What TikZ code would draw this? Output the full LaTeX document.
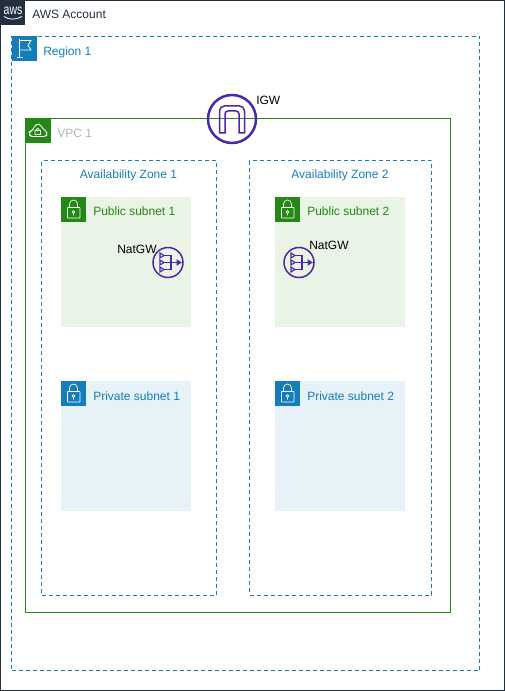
\documentclass[tikz,border=0pt]{standalone}
\usepackage{fontspec}
\setmainfont{Liberation Sans}
\usepackage{xcolor}
\usetikzlibrary{positioning, calc}

\definecolor{awsdark}{HTML}{232F3E}
\definecolor{awsblue}{HTML}{147EBA}
\definecolor{awsgreen}{HTML}{248814}
\definecolor{awsgrey}{HTML}{AAB7B8}
\definecolor{awspurple}{HTML}{4D27AA}
\definecolor{pubfill}{HTML}{E9F3E6}
\definecolor{privfill}{HTML}{E6F2F8}

\newcommand{\px}{0.75pt}

\tikzset{
    box/.style={rectangle, anchor=north west, inner sep=0pt, outer sep=0pt},
    zonebox/.style={box, draw=awsblue, line width=\px, dash pattern=on 3pt off 2.25pt},
    subnet/.style={box, minimum width=130*\px, minimum height=130*\px},
    badge/.style={box, minimum width=25*\px, minimum height=25*\px},
    lbl/.style={anchor=west, inner sep=0pt, text height=11.75pt, text depth=2pt, font=\fontsize{9}{11}\selectfont},
    zonelbl/.style={lbl, anchor=center, text=awsblue},
    gwlbl/.style={lbl, text=black},
    gateway/.style={circle, draw=awspurple, inner sep=0pt},
    lockicon/.pic={
        \draw[white, line width=0.5pt, rounded corners=0.3pt] (-6,-2) rectangle (6.5,8.5);
        \draw[white, line width=0.5pt] (-4,-2) -- (-4,-5.5) arc[start angle=180, end angle=360, radius=4] -- (4,-2);
        \draw[white, line width=0.5pt] (0,2.5) circle[radius=1.4] (0,3.9) -- (0,6);
    },
    natgwicon/.pic={
        \foreach \s in {-7,0,7}
            \draw[awspurple, fill=pubfill, line width=0.8pt] (-8,\s-2.5) -- (-4,\s) -- (-8,\s+2.5) -- cycle;
        \draw[awspurple, line width=0.8pt] (-4,-7) -- (3,-7) -- (3,7) -- (-4,7);
        \draw[awspurple, line width=0.8pt] (-4,0) -- (9,0);
        \draw[awspurple, fill=awspurple, line width=0.6pt] (9,-2.5) -- (13,0) -- (9,2.5) -- cycle;
    }
}

\begin{document}
\begin{tikzpicture}[x=\px, y=-\px]
    \useasboundingbox (0,0) rectangle (505,691);

    % Account
    \node[box, draw=awsdark, line width=\px, minimum width=504*\px, minimum height=690*\px] (account) at (0.5,0.5) {};
    \node[badge, fill=awsdark] (accountbadge) at (0,0) {};
    \node[anchor=base, inner sep=0pt, text=white, font=\fontsize{10.5}{12}\selectfont] (awslogo) at (13,15) {\scalebox{0.75}[1]{aws}};
    \draw[white, line width=0.6pt] (4,16.5) .. controls (9,20) and (16,20) .. (22,16.5);
    \node[lbl, text=awsdark, right=7*\px of accountbadge] (accountlbl) {AWS Account};

    % Region
    \node[zonebox, minimum width=468*\px, minimum height=634*\px] (region) at (11.5,36.5) {};
    \node[badge, fill=awsblue] (regionbadge) at (11.5,36.5) {};
    \draw[white, line width=0.6pt] (19,39.5) -- (19,57.5) (16.5,57.5) -- (22.5,57.5);
    \draw[white, line width=0.6pt] (19,40.5) -- (31,40.5) -- (28,45.5) -- (31,50) -- (19,50);
    \node[lbl, text=awsblue, right=6.5*\px of regionbadge] (regionlbl) {Region 1};

    % VPC
    \node[box, draw=awsgreen, line width=\px, minimum width=425*\px, minimum height=494*\px] (vpc) at (25.5,118.5) {};
    \node[badge, fill=awsgreen] (vpcbadge) at (25.5,118.5) {};
    \draw[white, line width=0.6pt, rounded corners=2pt] (33,136.5) -- (29.5,136) -- (29.5,131.5) -- (33,130) -- (35,125) -- (40,124) -- (43,129) -- (47,131.5) -- (46.5,136.5) -- cycle;
    \draw[white, line width=0.5pt] (35,130.5) rectangle (40.5,134.5) (36.3,130.5) -- (36.3,129.5) arc[start angle=180, end angle=360, radius=1.45] -- (39.2,130.5);
    \node[lbl, text=awsgrey, right=6.5*\px of vpcbadge] (vpclbl) {VPC 1};

    % Availability zones
    \node[zonebox, minimum width=174.5*\px, minimum height=434*\px] (az1) at (41.5,161) {};
    \node[zonebox, minimum width=182*\px, minimum height=434*\px] (az2) at (249.5,161) {};
    \node[zonelbl] (az1lbl) at (128.5,172.5) {Availability Zone 1};
    \node[zonelbl] (az2lbl) at (340,172.5) {Availability Zone 2};

    % Subnets
    \node[subnet, fill=pubfill] (pub1) at (61,197) {};
    \node[subnet, fill=pubfill] (pub2) at (275,197) {};
    \node[subnet, fill=privfill] (priv1) at (61,381) {};
    \node[subnet, fill=privfill] (priv2) at (275,381) {};

    \node[badge, fill=awsgreen] (pub1badge) at (61,197) {};
    \node[badge, fill=awsgreen] (pub2badge) at (275,197) {};
    \node[badge, fill=awsblue] (priv1badge) at (61,381) {};
    \node[badge, fill=awsblue] (priv2badge) at (275,381) {};
    \foreach \b in {pub1badge, pub2badge, priv1badge, priv2badge}
        \pic at (\b.center) {lockicon};

    \node[lbl, text=awsgreen, right=7*\px of pub1badge] (pub1lbl) {Public subnet 1};
    \node[lbl, text=awsgreen, right=7*\px of pub2badge] (pub2lbl) {Public subnet 2};
    \node[lbl, text=awsblue, right=7*\px of priv1badge] (priv1lbl) {Private subnet 1};
    \node[lbl, text=awsblue, right=7*\px of priv2badge] (priv2lbl) {Private subnet 2};

    % Gateways
    \node[gateway, line width=2.5*\px, minimum size=48*\px] (igw) at (232,119) {};
    \draw[awspurple, line width=1.5*\px] (219.5,133) -- (219.5,111) arc[start angle=180, end angle=270, radius=5] -- (239.5,106) arc[start angle=270, end angle=360, radius=5] -- (244.5,133) -- (239,133) -- (239,114) arc[start angle=0, end angle=-90, radius=3] -- (228,111) arc[start angle=270, end angle=180, radius=3] -- (225,133) -- cycle;
    \node[gwlbl] (igwlbl) at (256,98.5) {IGW};

    \node[gateway, line width=1.5*\px, minimum size=30*\px] (nat1) at (168,262.5) {};
    \node[gateway, line width=1.5*\px, minimum size=30*\px] (nat2) at (299,262.5) {};
    \pic at (nat1.center) {natgwicon};
    \pic at (nat2.center) {natgwicon};
    \node[gwlbl] (nat1lbl) at (117,246.5) {NatGW};
    \node[gwlbl] (nat2lbl) at (309,243.5) {NatGW};
\end{tikzpicture}
\end{document}
